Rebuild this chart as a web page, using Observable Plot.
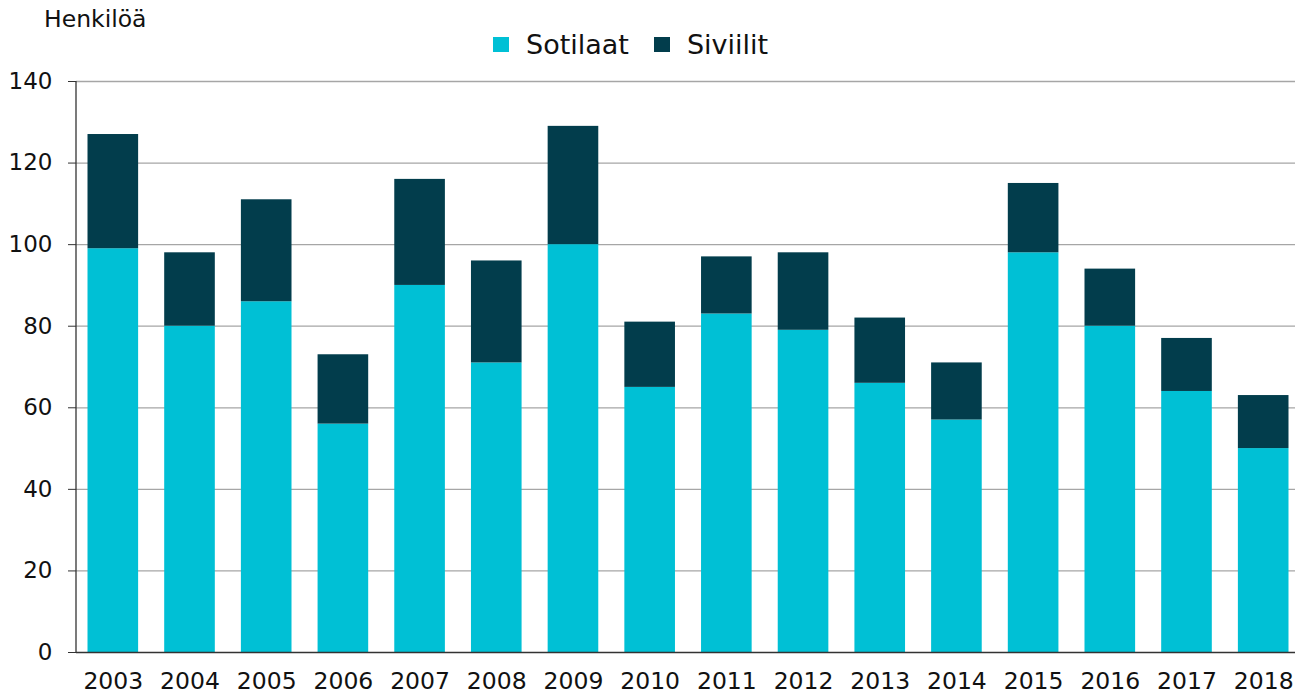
<!DOCTYPE html>
<html>
<head>
<meta charset="utf-8">
<script src="https://cdn.jsdelivr.net/npm/d3@7"></script>
<script src="https://cdn.jsdelivr.net/npm/@observablehq/plot@0.6"></script>
<style>
  body { margin: 0; background: #fff; font-family: "DejaVu Sans", Verdana, sans-serif; }
  #wrap { position: relative; width: 1295px; height: 695px; overflow: hidden; }
  #unit { position: absolute; left: 44px; top: 5px; font-size: 23.5px; line-height: normal; color: #111; }
  #legend { position: absolute; left: 493px; top: 27px; font-size: 27px; line-height: normal; color: #111; white-space: nowrap; }
  #legend span.item { display: inline-flex; align-items: center; margin-right: 25px; }
  #legend span.sw { display: inline-block; width: 16px; height: 15px; margin-right: 17px; }
  #chart { position: absolute; left: 0; top: 0; }
</style>
</head>
<body>
<div id="wrap">
  <div id="chart"></div>
  <div id="unit">Henkilöä</div>
  <div id="legend"></div>
</div>
<script>
const years = ["2003","2004","2005","2006","2007","2008","2009","2010","2011","2012","2013","2014","2015","2016","2017","2018"];
const sotilaat = [99, 80, 86, 56, 90, 71, 100, 65, 83, 79, 66, 57, 98, 80, 64, 50];
const siviilit = [28, 18, 25, 17, 26, 25, 29, 16, 14, 19, 16, 14, 17, 14, 13, 13];
const seriesNames = ["Sotilaat", "Siviilit"];
const seriesColors = ["#00C0D5", "#023D4C"];
const yTicks = [0, 20, 40, 60, 80, 100, 120, 140];

const data = [];
years.forEach((y, i) => {
  data.push({year: y, type: "Sotilaat", value: sotilaat[i]});
  data.push({year: y, type: "Siviilit", value: siviilit[i]});
});

const W = 1295, H = 695, mL = 76, mR = 0, mT = 81, mB = 43;

const plot = Plot.plot({
  width: W, height: H,
  marginLeft: mL, marginRight: mR, marginTop: mT, marginBottom: mB,
  style: {fontFamily: "'DejaVu Sans', Verdana, sans-serif", fontSize: "23px", color: "#111", background: "#fff"},
  x: {domain: years, range: [mL, W + 5], round: false, paddingInner: 0.34, paddingOuter: 0.15, label: null},
  y: {domain: [0, 140], label: null},
  color: {domain: seriesNames, range: seriesColors},
  marks: [
    Plot.ruleY(yTicks.filter(d => d > 0), {stroke: "#a6a6a6", strokeWidth: 1.3, strokeOpacity: 1}),
    Plot.barY(data, {x: "year", y: "value", fill: "type", order: seriesNames}),
    Plot.axisY({ticks: yTicks, tickSize: 8, tickPadding: 16, stroke: "#333", label: null, fontSize: 23}),
    Plot.axisX({tickSize: 0, tickPadding: 20, label: null, fontSize: 23.5}),
    Plot.ruleY([0], {stroke: "#333", strokeWidth: 1.3})
  ]
});

// vertical axis line derived from the scales
const ys = plot.scale("y");
d3.select(plot).append("line")
  .attr("x1", mL).attr("x2", mL)
  .attr("y1", ys.apply(0)).attr("y2", ys.apply(140))
  .attr("stroke", "#333").attr("stroke-width", 1.3);

document.getElementById("chart").appendChild(plot);

const legend = document.getElementById("legend");
seriesNames.forEach((n, i) => {
  const item = document.createElement("span");
  item.className = "item";
  const sw = document.createElement("span");
  sw.className = "sw";
  sw.style.background = seriesColors[i];
  item.appendChild(sw);
  item.appendChild(document.createTextNode(n));
  legend.appendChild(item);
});
</script>
</body>
</html>
